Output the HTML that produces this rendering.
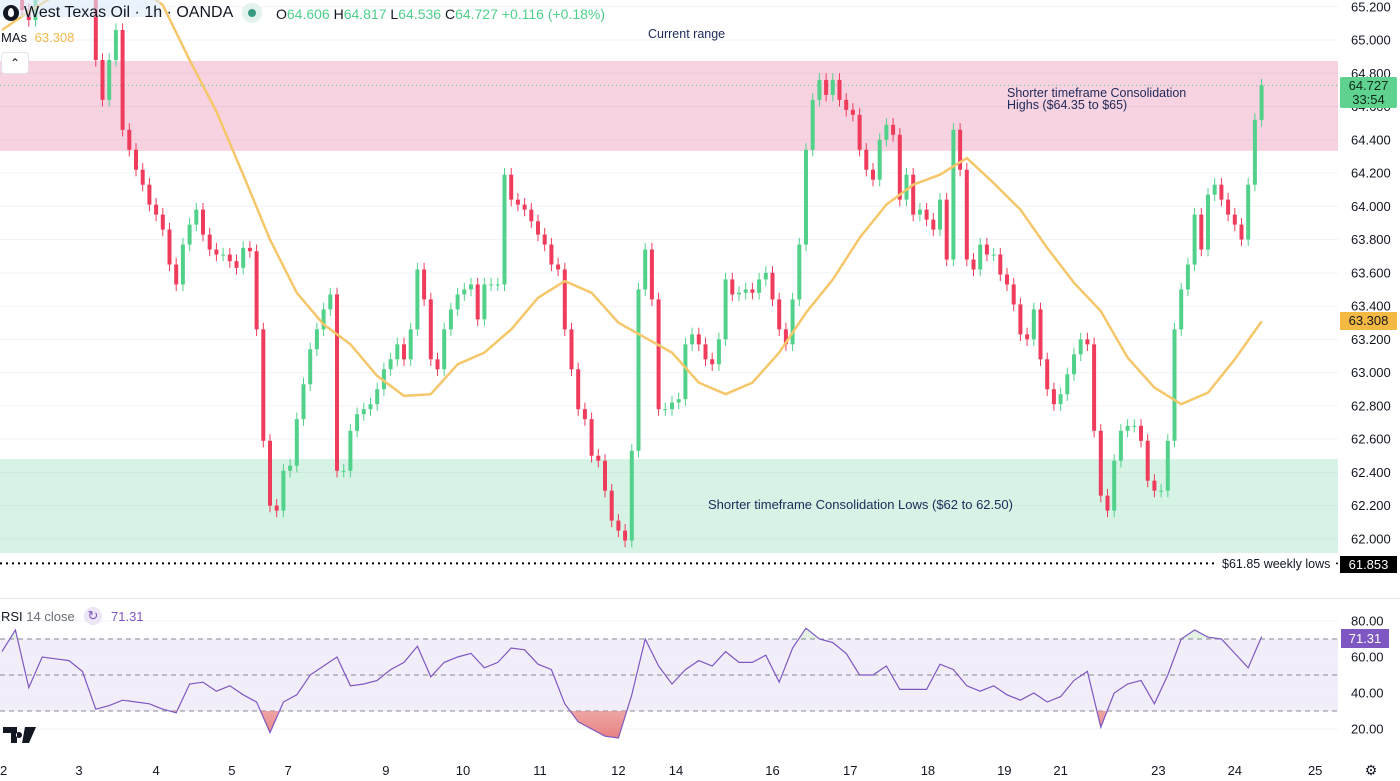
<!DOCTYPE html>
<html><head><meta charset="utf-8">
<style>
body{margin:0;width:1400px;height:781px;overflow:hidden;background:#fff;font-family:"Liberation Sans",sans-serif;position:relative}
.abs{position:absolute;white-space:nowrap}
svg{position:absolute;left:0;top:0}
.g{color:#4fcf8a}
</style></head><body>
<svg id="chart" width="1400" height="781"></svg>

<div class="abs" style="left:0;top:0;width:160px;height:17px;background:rgba(220,235,250,0.6)"></div>
<div class="abs" style="left:3px;top:5px;width:16px;height:16px;border-radius:50%;background:#131722"><div style="position:absolute;left:5px;top:3px;width:6px;height:9px;border-radius:50% 50% 50% 50%/60% 60% 40% 40%;background:#fff"></div></div>
<div class="abs" style="left:24px;top:4px;font-size:16px;color:#131722">West Texas Oil · 1h · OANDA</div>
<div class="abs" style="left:242px;top:3px;width:20px;height:20px;border-radius:50%;background:#e4f2ee"><div style="position:absolute;left:6px;top:6px;width:8px;height:8px;border-radius:50%;background:#3a9b82"></div></div>
<div class="abs" style="left:276px;top:6px;font-size:14px;color:#131722">O<span class="g">64.606</span> H<span class="g">64.817</span> L<span class="g">64.536</span> C<span class="g">64.727</span> <span class="g">+0.116 (+0.18%)</span></div>
<div class="abs" style="left:1px;top:30px;font-size:13px;color:#131722">MAs <span style="color:#f2b84b;margin-left:4px">63.308</span></div>
<div class="abs" style="left:1px;top:52px;width:26px;height:20px;border:1px solid #e0e3eb;border-radius:4px;background:#fff;font-size:12px;text-align:center;line-height:20px;color:#131722">&#8963;</div>
<div class="abs" style="left:648px;top:27px;font-size:12.5px;color:#1e2a5a">Current range</div>
<div class="abs" style="left:1007px;top:87px;font-size:12.5px;color:#1e2a5a;line-height:12px">Shorter timeframe Consolidation<br>Highs ($64.35 to $65)</div>
<div class="abs" style="left:708px;top:497px;font-size:13px;color:#1e2a5a">Shorter timeframe Consolidation Lows ($62 to 62.50)</div>
<div class="abs" style="left:1222px;top:557px;font-size:12.5px;color:#131722">$61.85 weekly lows</div>
<div class="abs" style="left:1340px;top:556px;width:57px;height:17px;background:#000;color:#fff;font-size:13px;text-align:center;line-height:17px">61.853</div>
<div class="abs" style="left:1340px;top:77px;width:57px;height:31px;background:#5fd290;color:#0f2a1a;font-size:13px;text-align:center;line-height:14px;padding-top:2px;box-sizing:border-box;border-radius:2px">64.727<br>33:54</div>
<div class="abs" style="left:1340px;top:312px;width:57px;height:18px;background:#f4b942;color:#131722;font-size:13px;text-align:center;line-height:18px">63.308</div>
<div class="abs" style="left:1px;top:609px;font-size:13px;color:#131722">RSI <span style="color:#6a6d78">14 close</span></div>
<div class="abs" style="left:84px;top:607px;width:18px;height:18px;border-radius:50%;background:#ece6f7;color:#7e57c2;font-size:13px;text-align:center;line-height:18px">&#8635;</div>
<div class="abs" style="left:111px;top:609px;font-size:13px;color:#7e57c2">71.31</div>
<div class="abs" style="left:1341px;top:629px;width:48px;height:19px;background:#7e57c2;color:#fff;font-size:13px;text-align:center;line-height:19px">71.31</div>
<svg style="left:3px;top:727px" width="34" height="16"><path d="M0 0H14V16H8V6H0Z M16 5a3 3 0 1 0 0.01 0Z M22 0H33L26 16H19Z" fill="#131722"/></svg>
<div class="abs" style="left:1363px;top:762px;width:16px;height:16px;font-size:14px;color:#131722;text-align:center">&#9881;</div>

<script>
const closes=[65.42,65.36,65.30,65.18,65.12,65.30,65.42,65.48,65.48,65.48,65.48,65.48,65.42,65.30,
64.88,64.64,64.88,65.06,
64.46,64.34,64.22,64.13,64.01,63.95,63.86,63.65,63.53,63.77,63.89,63.98,63.83,63.74,63.71,63.71,63.67,63.63,63.75,63.73,
63.26,62.59,62.20,62.17,62.41,62.44,62.72,62.93,63.14,63.26,63.38,63.47,
62.41,62.41,62.65,62.75,62.78,62.81,62.90,63.02,63.08,63.17,63.08,63.26,63.62,63.44,63.08,63.02,63.26,63.38,63.47,63.50,63.53,63.32,63.53,63.53,63.53,
64.19,64.04,64.01,63.98,63.91,63.83,63.77,63.65,63.62,63.26,63.02,62.78,62.72,62.50,62.47,62.29,62.11,62.05,61.99,62.53,63.50,63.74,63.44,62.78,
62.78,62.82,62.84,63.17,63.23,63.17,63.08,63.05,63.20,63.56,63.47,63.48,63.50,63.48,63.56,63.60,63.44,63.26,63.17,63.44,63.77,
64.34,64.64,64.76,64.67,64.76,64.64,64.58,64.55,64.34,64.22,64.16,64.40,64.49,64.43,64.04,64.19,63.95,63.98,63.92,63.86,64.04,63.68,64.46,64.22,63.68,63.62,63.77,63.71,
63.71,63.59,63.53,63.41,63.23,63.20,63.38,63.08,62.90,62.81,62.87,62.99,63.11,63.20,63.17,62.65,62.26,62.17,62.47,62.65,62.68,62.68,62.59,62.35,62.29,62.29,62.59,63.26,63.50,63.65,63.95,63.74,64.07,64.13,64.04,63.95,63.89,63.80,64.13,64.52,64.727];
const maValues=[65.06,65.17,65.27,65.36,65.39,65.33,65.21,64.88,64.57,64.19,63.80,63.48,63.29,63.17,62.98,62.86,62.87,63.05,63.12,63.26,63.45,63.55,63.48,63.30,63.21,63.12,62.94,62.87,62.94,63.12,63.36,63.56,63.81,64.01,64.13,64.19,64.29,64.14,63.98,63.75,63.54,63.37,63.09,62.91,62.81,62.88,63.08,63.308];
const rsiValues=[63,75,43,60,59,58,52,31,33,36,35,34,31,29,45,46,41,44,39,35,18,35,39,50,55,60,44,45,47,53,57,66,49,57,60,62,54,57,65,64,56,53,34,24,20,16,15,39,70,55,45,53,58,
55,63,57,57,61,46,65,76,70,68,62,50,50,55,42,42,42,56,53,44,41,44,39,36,40,35,38,47,52,21,40,45,47,34,50,70,75,71,70,62,54,71.31];
const priceTicks=["65.200","65.000","64.800","64.600","64.400","64.200","64.000","63.800","63.600","63.400","63.200","63.000","62.800","62.600","62.400","62.200","62.000"];
const rsiTicks=["80.00","60.00","40.00","20.00"];
const dayLabels=["2","3","4","5","7","9","10","11","12","14","16","17","18","19","21","23","24","25"];
const dayCandleIdx=[0,11.5,23,34.3,42.7,57.3,68.8,80.3,92,100.6,115,126.6,138.2,149.6,158,172.6,184,196];

const NS="http://www.w3.org/2000/svg";
const svg=document.getElementById('chart');
const PW=1338;
function py(p){return 40+(65-p)*166.3;}
function cx(i){return 2+6.7*i;}
function ry(v){return 621+(80-v)*1.8;}
function mk(tag,attrs,parent){const e=document.createElementNS(NS,tag);for(const k in attrs)e.setAttribute(k,attrs[k]);(parent||svg).appendChild(e);return e;}

const defs=mk('defs',{});
const cp=mk('clipPath',{id:'pclip'},defs);mk('rect',{x:0,y:0,width:PW,height:597},cp);
const cpl=mk('clipPath',{id:'lowclip'},defs);mk('rect',{x:0,y:ry(30),width:PW,height:60},cpl);
const cph=mk('clipPath',{id:'highclip'},defs);mk('rect',{x:0,y:600,width:PW,height:ry(70)-600},cph);
const lg=mk('linearGradient',{id:'redgrad',x1:0,y1:0,x2:0,y2:1},defs);
mk('stop',{offset:'0','stop-color':'#f7c6c6','stop-opacity':'0.3'},lg);mk('stop',{offset:'1','stop-color':'#e57373','stop-opacity':'0.9'},lg);

priceTicks.forEach(t=>{const y=py(parseFloat(t));
 let l=mk('line',{x1:0,x2:PW,y1:y,y2:y,stroke:'#f0f3fa','stroke-width':1});
 
 let tx=mk('text',{x:1351,y:y+4.5,'font-size':13,fill:'#131722','font-family':'Liberation Sans'});tx.textContent=t;
 
});
let z1=mk('rect',{x:0,y:py(64.874),width:PW,height:py(64.333)-py(64.874),fill:'#f7d2e0'});

let z2=mk('rect',{x:0,y:py(62.48),width:PW,height:py(61.915)-py(62.48),fill:'#d6f3e5'});

priceTicks.forEach(t=>{const y=py(parseFloat(t));if((y>61&&y<151)||(y>459&&y<553)){mk('line',{x1:0,x2:PW,y1:y,y2:y,stroke:'rgba(0,0,0,0.04)'});}});
let lp=mk('line',{x1:0,x2:1340,y1:py(64.727),y2:py(64.727),stroke:'#4fcf8a','stroke-dasharray':'1 3','stroke-width':1});

let wl=mk('line',{x1:0,x2:1216,y1:py(61.853),y2:py(61.853),stroke:'#000','stroke-dasharray':'2 4','stroke-width':2});

mk('circle',{cx:1337,cy:py(61.853),r:1,fill:'#000'});

const cg=mk('g',{'clip-path':'url(#pclip)'});
for(let i=0;i<closes.length;i++){
 const c=closes[i], o=i>0?closes[i-1]:c;
 const up=c>=o, col=up?'#52d18b':'#ef3b5c';
 const hi=Math.max(o,c)+0.04, lo=Math.min(o,c)-0.04;
 const x=cx(i);
 const g=mk('g',{},cg);
 
 
 mk('line',{x1:x,x2:x,y1:py(hi),y2:py(lo),stroke:col,'stroke-width':1},g);
 const y1=py(Math.max(o,c)),y2=py(Math.min(o,c));
 mk('rect',{x:x-2,y:y1,width:4,height:Math.max(1,y2-y1),fill:col},g);
}
let d='';maValues.forEach((v,k)=>{const i=Math.min(k*4,188.6);d+=(k?'L':'M')+cx(i).toFixed(1)+' '+py(v).toFixed(1);});
let ma=mk('path',{d:d,fill:'none',stroke:'#f5c76a','stroke-width':2.5,'clip-path':'url(#pclip)','stroke-linejoin':'round'});


mk('line',{x1:0,x2:1400,y1:598.5,y2:598.5,stroke:'#e0e3eb'});
mk('rect',{x:0,y:ry(70),width:PW,height:ry(30)-ry(70),fill:'rgba(126,87,194,0.1)'});
rsiTicks.forEach(t=>{const y=ry(parseFloat(t));
 let l=mk('line',{x1:0,x2:PW,y1:y,y2:y,stroke:'#f0f3fa'});
 
 let tx=mk('text',{x:1351,y:y+4.5,'font-size':13,fill:'#131722','font-family':'Liberation Sans'});tx.textContent=t;
 
});
[70,50,30].forEach(v=>{let l=mk('line',{x1:0,x2:PW,y1:ry(v),y2:ry(v),stroke:'#868993','stroke-dasharray':'5 4'});
 });
let rd='';rsiValues.forEach((v,j)=>{rd+=(j?'L':'M')+cx(2*j).toFixed(1)+' '+ry(v).toFixed(1);});
const lastX=cx(2*(rsiValues.length-1)).toFixed(1);
mk('path',{d:rd+'L'+lastX+' '+ry(30)+'L2 '+ry(30)+'Z',fill:'url(#redgrad)','clip-path':'url(#lowclip)'});
mk('path',{d:rd+'L'+lastX+' '+ry(70)+'L2 '+ry(70)+'Z',fill:'rgba(76,175,80,0.15)','clip-path':'url(#highclip)'});
let rl=mk('path',{d:rd,fill:'none',stroke:'#7e57c2','stroke-width':1.2});


dayLabels.forEach((t,k)=>{let x=cx(dayCandleIdx[k]);
 let tx=mk('text',{x:x,y:775,'font-size':13,fill:'#131722','text-anchor':k===0?'start':'middle','font-family':'Liberation Sans'});
 if(k===0)tx.setAttribute('x',0);
 tx.textContent=t;});
</script>
</body></html>
